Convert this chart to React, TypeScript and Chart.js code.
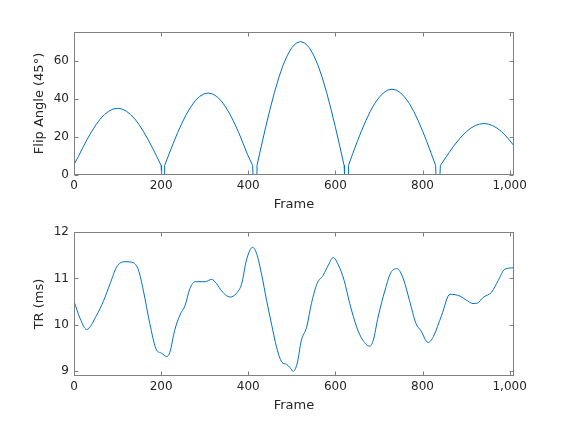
import React, { useEffect, useRef } from "react";
import { Chart, registerables } from "chart.js";
Chart.register(...registerables);

// ---- Data ----
const flipFrames = [
  0, 10, 20, 30, 40, 50, 60, 70, 80, 90, 100, 110, 120, 130, 140, 150, 160, 170, 180, 190, 200,
  201, 207,
  208, 218, 228, 238, 248, 258, 268, 278, 288, 298, 308, 318, 328, 338, 348, 358, 368, 378, 388, 398, 410,
  411, 419,
  420, 430, 440, 450, 460, 470, 480, 490, 500, 510, 520, 530, 540, 550, 560, 570, 580, 590, 600, 610, 620,
  621, 629,
  630, 640, 650, 660, 670, 680, 690, 700, 710, 720, 730, 740, 750, 760, 770, 780, 790, 800, 810, 820, 830,
  831, 840,
  841, 851, 861, 871, 881, 891, 901, 911, 921, 931, 941, 951, 961, 971, 981, 991, 1001, 1010,
];
const flipAngles = [
  5.5, 9.7, 14.3, 18.6, 22.6, 26.2, 29.3, 31.7, 33.5, 34.6, 35, 34.6, 33.5, 31.7, 29.3, 26.2, 22.6, 18.6, 14.3, 9.7, 5,
  0, 0,
  5, 10.9, 16.7, 22.3, 27.3, 31.9, 35.7, 38.9, 41.1, 42.5, 43, 42.5, 41.1, 38.9, 35.7, 31.9, 27.3, 22.3, 16.7, 10.9, 5,
  0, 0,
  5, 15.2, 25.1, 34.5, 43.2, 51, 57.6, 62.9, 66.8, 69.2, 70, 69.2, 66.8, 62.9, 57.6, 51, 43.2, 34.5, 25.1, 15.2, 5,
  0, 0,
  5, 11.3, 17.4, 23.2, 28.5, 33.3, 37.4, 40.6, 43, 44.5, 45, 44.5, 43, 40.6, 37.4, 33.3, 28.5, 23.2, 17.4, 11.3, 5,
  0, 0,
  5, 8.4, 11.8, 15, 17.9, 20.6, 22.8, 24.6, 25.9, 26.7, 27, 26.7, 25.9, 24.6, 22.8, 20.6, 17.9, 15.3,
];

const trFrames = [
  0, 14, 29, 52, 67, 83, 98, 117, 136, 148, 159, 174, 188, 201, 213, 220, 231, 243, 255, 266,
  278, 301, 316, 327, 339, 358, 373, 385, 396, 410, 419, 431, 442, 454, 465, 477, 488, 496, 503,
  512, 522, 534, 545, 558, 572, 584, 595, 607, 620, 633, 649, 663, 679, 687, 698, 714, 727, 742,
  756, 770, 785, 796, 813, 825, 844, 863, 886, 901, 916, 926, 939, 959, 974, 989, 1010,
];
const trValues = [
  10.51, 10.14, 9.9, 10.21, 10.5, 10.89, 11.25, 11.36, 11.34, 11.18, 10.75, 10.03, 9.49, 9.39, 9.32, 9.41, 9.88, 10.21, 10.42, 10.78,
  10.93, 10.93, 10.98, 10.89, 10.73, 10.6, 10.68, 10.89, 11.4, 11.67, 11.54, 11.07, 10.53, 9.99, 9.52, 9.2, 9.15, 9.08, 9.0,
  9.16, 9.67, 9.95, 10.46, 10.89, 11.07, 11.29, 11.45, 11.29, 10.96, 10.46, 9.95, 9.67, 9.54, 9.67, 10.17, 10.75, 11.12, 11.21,
  10.99, 10.53, 10.03, 9.88, 9.62, 9.75, 10.21, 10.66, 10.62, 10.53, 10.46, 10.47, 10.59, 10.71, 10.96, 11.2, 11.23,
];

const frameTicks = [0, 200, 400, 600, 800, 1000];
const flipTicks = [0, 20, 40, 60];
const trTicks = [9, 10, 11, 12];

const LINE = "#0072BD";
const AXIS = "#808080";
const TEXT = "#262626";
const FONT = "'DejaVu Sans', sans-serif";

const boxPlugin = {
  id: "matlabBox",
  afterDraw(chart: any) {
    const { ctx, chartArea: a, scales } = chart;
    const L = Math.round(a.left) + 0.5;
    const R = Math.round(a.right) - 0.5;
    const T = Math.round(a.top) + 0.5;
    const B = Math.round(a.bottom) - 0.5;
    const len = 4;
    ctx.save();
    ctx.strokeStyle = AXIS;
    ctx.lineWidth = 1;
    ctx.beginPath();
    for (const t of scales.x.ticks) {
      const px = Math.round(scales.x.getPixelForValue(t.value)) + 0.5;
      ctx.moveTo(px, B);
      ctx.lineTo(px, B - len);
      ctx.moveTo(px, T);
      ctx.lineTo(px, T + len);
    }
    for (const t of scales.y.ticks) {
      const py = Math.round(scales.y.getPixelForValue(t.value)) + 0.5;
      ctx.moveTo(L, py);
      ctx.lineTo(L + len, py);
      ctx.moveTo(R, py);
      ctx.lineTo(R - len, py);
    }
    ctx.stroke();
    ctx.strokeRect(L, T, R - L, B - T);
    ctx.restore();
  },
};

function makeConfig(
  xs: number[],
  ys: number[],
  yMin: number,
  yMax: number,
  yTicks: number[],
  yTitle: string,
  padTop: number,
  smooth: boolean
): any {
  return {
    type: "line",
    data: {
      datasets: [
        {
          data: xs.map((x, i) => ({ x, y: ys[i] })),
          borderColor: LINE,
          borderWidth: 1,
          pointRadius: 0,
          tension: 0,
          cubicInterpolationMode: smooth ? "monotone" : "default",
          fill: false,
        },
      ],
    },
    options: {
      animation: false,
      responsive: false,
      layout: { padding: { top: padTop, right: 54, left: 0, bottom: 0 } },
      plugins: { legend: { display: false }, tooltip: { enabled: false } },
      scales: {
        x: {
          type: "linear",
          min: 0,
          max: 1010,
          afterBuildTicks: (s: any) => {
            s.ticks = frameTicks.map((v) => ({ value: v }));
          },
          afterFit: (s: any) => {
            s.height = 37;
          },
          grid: { display: false, drawTicks: false },
          border: { display: false },
          ticks: { color: TEXT, font: { family: FONT, size: 12 }, padding: 4, maxRotation: 0 },
          title: {
            display: true,
            text: "Frame",
            color: TEXT,
            font: { family: FONT, size: 13 },
            padding: { top: 0, bottom: 0 },
          },
        },
        y: {
          type: "linear",
          min: yMin,
          max: yMax,
          afterBuildTicks: (s: any) => {
            s.ticks = yTicks.map((v) => ({ value: v }));
          },
          afterFit: (s: any) => {
            s.width = 74;
          },
          grid: { display: false, drawTicks: false },
          border: { display: false },
          ticks: { color: TEXT, font: { family: FONT, size: 12 }, padding: 5 },
          title: {
            display: true,
            text: yTitle,
            color: TEXT,
            font: { family: FONT, size: 13 },
            padding: { top: 32, bottom: 0 },
          },
        },
      },
    },
    plugins: [boxPlugin],
  };
}

export default function App() {
  const topRef = useRef<HTMLCanvasElement>(null);
  const botRef = useRef<HTMLCanvasElement>(null);

  useEffect(() => {
    const c1 = new Chart(
      topRef.current as HTMLCanvasElement,
      makeConfig(flipFrames, flipAngles, 0, 75, flipTicks, "Flip Angle (45°)", 32, false)
    );
    const c2 = new Chart(
      botRef.current as HTMLCanvasElement,
      makeConfig(trFrames, trValues, 8.9, 12, trTicks, "TR (ms)", 21, true)
    );
    return () => {
      c1.destroy();
      c2.destroy();
    };
  }, []);

  return (
    <div
      style={{
        position: "fixed",
        left: 0,
        top: 0,
        width: 568,
        height: 423,
        background: "#ffffff",
      }}
    >
      <canvas
        ref={topRef}
        width={568}
        height={212}
        style={{ position: "absolute", left: 0, top: 0, width: 568, height: 212 }}
      />
      <canvas
        ref={botRef}
        width={568}
        height={202}
        style={{ position: "absolute", left: 0, top: 211, width: 568, height: 202 }}
      />
    </div>
  );
}
